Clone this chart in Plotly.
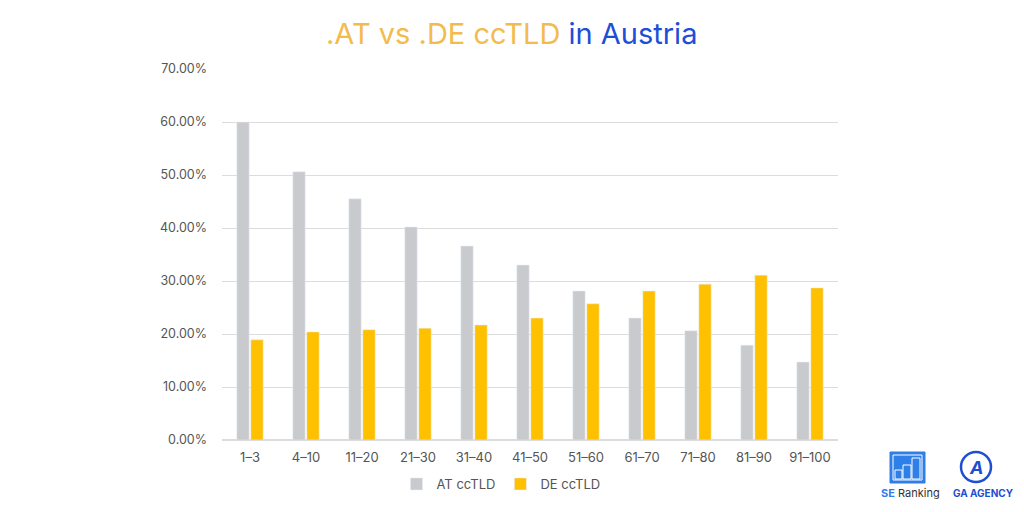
import plotly.graph_objects as go

categories = ["1–3", "4–10", "11–20", "21–30", "31–40", "41–50", "51–60", "61–70", "71–80", "81–90", "91–100"]
at_values = [60.0, 50.6, 45.5, 40.2, 36.6, 33.0, 28.1, 23.0, 20.6, 17.9, 14.7]
de_values = [18.9, 20.4, 20.8, 21.1, 21.7, 23.0, 25.7, 28.1, 29.4, 31.1, 28.7]
y_ticks = [0, 10, 20, 30, 40, 50, 60, 70]

FONT = "Inter"
L, R, T, B = 222, 838, 69, 440


def px(x):
    return (x - L) / (R - L)


def py(y):
    return (B - y) / (B - T)


fig = go.Figure()
fig.add_trace(go.Bar(x=categories, y=at_values, name="AT ccTLD", marker_color="#C9CACE"))
fig.add_trace(go.Bar(x=categories, y=de_values, name="DE ccTLD", marker_color="#FFC000"))

shapes = []
# SE Ranking logo
shapes.append(dict(type="rect", xref="paper", yref="paper", x0=px(890), x1=px(925), y0=py(483), y1=py(452),
                   fillcolor="#2F7FE8", line=dict(color="#2F7FE8", width=1), layer="above"))
shapes.append(dict(type="rect", xref="paper", yref="paper", x0=px(893), x1=px(922), y0=py(480), y1=py(455),
                   fillcolor="#2F7FE8", line=dict(color="white", width=1), layer="above"))
for bx0, bx1, btop in [(895, 902, 470), (903, 911, 465), (912, 920, 458)]:
    shapes.append(dict(type="rect", xref="paper", yref="paper", x0=px(bx0), x1=px(bx1), y0=py(479), y1=py(btop),
                       fillcolor="#2F7FE8", line=dict(color="white", width=1), layer="above"))
# GA Agency logo
shapes.append(dict(type="circle", xref="paper", yref="paper", x0=px(961), x1=px(991), y0=py(482), y1=py(452),
                   fillcolor="rgba(0,0,0,0)", line=dict(color="#1E4FD0", width=2.5), layer="above"))

annotations = [
    dict(text="<span style='color:#F3BB4C'>.AT vs .DE ccTLD</span> <span style='color:#1D4ED8'>in Austria</span>",
         xref="paper", yref="paper", x=px(511), y=py(33), showarrow=False,
         font=dict(family=FONT, size=29), xanchor="center", yanchor="middle"),
    dict(text="<b><span style='color:#2F7FE8'>SE</span></b> <span style='color:#333'>Ranking</span>",
         xref="paper", yref="paper", x=px(910), y=py(493), showarrow=False,
         font=dict(family=FONT, size=11), xanchor="center", yanchor="middle"),
    dict(text="<b>GA AGENCY</b>", xref="paper", yref="paper", x=px(983), y=py(493), showarrow=False,
         font=dict(family=FONT, size=10, color="#1E4FD0"), xanchor="center", yanchor="middle"),
    dict(text="<i><b>A</b></i>", xref="paper", yref="paper", x=px(976), y=py(467), showarrow=False,
         font=dict(family=FONT, size=18, color="#1E4FD0"), xanchor="center", yanchor="middle"),
]

fig.update_layout(
    width=1024, height=512,
    margin=dict(l=L, r=1024 - R, t=T, b=512 - B),
    paper_bgcolor="white", plot_bgcolor="white",
    barmode="group", bargap=0.5, bargroupgap=0.12,
    font=dict(family=FONT, color="#555555", size=12),
    showlegend=True,
    legend=dict(orientation="h", x=px(501), y=py(484), xanchor="center", yanchor="middle",
                font=dict(family=FONT, size=13, color="#555555"), itemwidth=30, traceorder="normal"),
    shapes=shapes, annotations=annotations,
)
fig.update_xaxes(showgrid=False, showline=False, ticks="", tickfont=dict(size=13, color="#555555"),
                 ticklabelstandoff=8)
fig.update_yaxes(range=[0, 70], tickvals=y_ticks, ticktext=[f"{v:.2f}%" for v in y_ticks],
                 showgrid=True, gridcolor="#DCDCDC", gridwidth=1, zeroline=True, zerolinecolor="#DCDCDC",
                 showline=False, ticks="", tickfont=dict(size=12.5, color="#555555"), ticklabelstandoff=14)

fig.write_html("out.html")
